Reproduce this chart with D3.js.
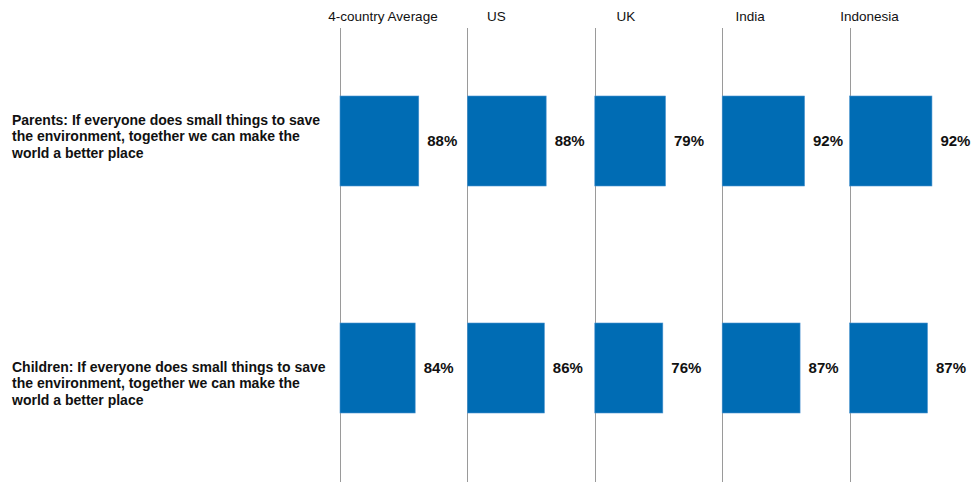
<!DOCTYPE html>
<html>
<head>
<meta charset="utf-8">
<script src="https://cdn.jsdelivr.net/npm/d3@7"></script>
<style>
  html, body { margin: 0; padding: 0; background: #fff; }
  svg { display: block; font-family: "Liberation Sans", Arial, sans-serif; }
</style>
</head>
<body>
<svg id="chart" width="972" height="482"></svg>
<script>
// Survey panels: one column per market, one row per respondent group
const markets = ["4-country Average", "US", "UK", "India", "Indonesia"];
const groups = ["Parents", "Children"];
const groupLabels = [
  ["Parents: If everyone does small things to save", "the environment, together we can make the", "world a better place"],
  ["Children: If everyone does small things to save", "the environment, together we can make the", "world a better place"]
];
const parentsAgree = [88, 88, 79, 92, 92];
const childrenAgree = [84, 86, 76, 87, 87];

// Header nudges (px) relative to each panel's divider line
const headerShift = [43, 29, 31, 28, 20];
// Row label nudges (px) relative to each row's band centre
const rowLabelShift = [0, 20];

const rows = [parentsAgree, childrenAgree];
const cells = [];
groups.forEach((g, gi) => markets.forEach((m, mi) => cells.push({ group: g, market: m, value: rows[gi][mi] })));

const svg = d3.select("#chart");
const W = 972, H = 482;

const xPanel = d3.scaleBand().domain(markets).range([340, 977]).paddingInner(0);
const yRow = d3.scaleBand().domain(groups).range([96, 413]).paddingInner(137 / 227).paddingOuter(0);
const xVal = d3.scaleLinear().domain([0, 100]).range([0, 89.5]);

// Panel divider lines
svg.append("g").selectAll("line").data(markets).join("line")
  .attr("x1", d => Math.round(xPanel(d)) + 0.5).attr("x2", d => Math.round(xPanel(d)) + 0.5)
  .attr("y1", 28).attr("y2", H)
  .attr("stroke", "#9a9a9a").attr("stroke-width", 1);

// Panel headers
svg.append("g").selectAll("text").data(markets).join("text")
  .attr("x", (d, i) => xPanel(d) + headerShift[i])
  .attr("y", 21)
  .attr("text-anchor", "middle")
  .attr("font-size", "13.5px")
  .attr("fill", "#111")
  .text(d => d);

// Row labels
const rowLab = svg.append("g").selectAll("text").data(groups).join("text")
  .attr("x", 12)
  .attr("y", (d, i) => yRow(d) + yRow.bandwidth() / 2 - 16 + rowLabelShift[i])
  .attr("font-size", "14px")
  .attr("font-weight", "bold")
  .attr("fill", "#111");
rowLab.each(function (d, i) {
  d3.select(this).selectAll("tspan").data(groupLabels[i]).join("tspan")
    .attr("x", 12)
    .attr("dy", (t, j) => j === 0 ? 0 : 16.3)
    .text(t => t);
});

// Bars
svg.append("g").selectAll("rect").data(cells).join("rect")
  .attr("x", d => xPanel(d.market))
  .attr("y", d => yRow(d.group))
  .attr("width", d => xVal(d.value))
  .attr("height", yRow.bandwidth())
  .attr("fill", "#006cb4")
  .attr("stroke", "#4a93cf")
  .attr("stroke-width", 0.6);

// Value labels
svg.append("g").selectAll("text").data(cells).join("text")
  .attr("x", d => xPanel(d.market) + xVal(d.value) + 8.5)
  .attr("y", d => yRow(d.group) + yRow.bandwidth() / 2)
  .attr("dy", "0.36em")
  .attr("font-size", "15px")
  .attr("font-weight", "bold")
  .attr("fill", "#111")
  .text(d => d.value + "%");
</script>
</body>
</html>
